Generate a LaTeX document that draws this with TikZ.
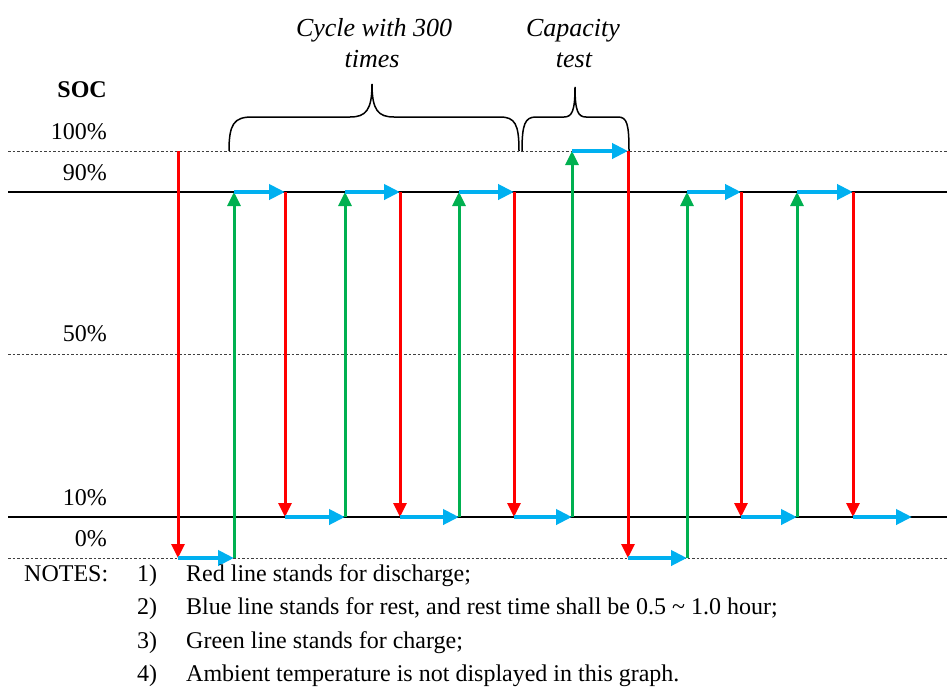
\documentclass[tikz,border=0pt]{standalone}
\usepackage{fontspec}
\setmainfont{Liberation Serif}
\usetikzlibrary{arrows.meta}
\definecolor{dischg}{RGB}{255,0,0}
\definecolor{chg}{RGB}{0,176,80}
\definecolor{rest}{RGB}{0,176,240}

\begin{document}
\begin{tikzpicture}[x=1pt, y=-1pt,
    every node/.style={font=\fontsize{24}{28}\selectfont, inner sep=0pt},
    lvl/.style={anchor=base east},
    note/.style={anchor=base west},
    ttl/.style={anchor=base, font=\fontsize{26}{30}\selectfont\itshape},
    gridline/.style={draw=black!75, line width=0.8pt, dash pattern=on 2.5pt off 2pt},
    refline/.style={draw=black, line width=2pt},
    seg1/.style={draw=dischg, line width=3pt, -{Triangle[length=14pt,width=13pt]}},
    seg3/.style={draw=chg, line width=3pt, -{Triangle[length=14pt,width=13pt]}},
    seg0/.style={draw=rest, line width=4pt, -{Triangle[length=16pt,width=15pt]}},
    seg2/.style={seg0},
    brc/.style={draw=black, line width=1.5pt}]
  \useasboundingbox (0,0) rectangle (947,686);

  % SOC levels
  \foreach \y in {151,354,558} \draw[gridline] (8,\y) -- (947,\y);
  \foreach \y in {192,517} \draw[refline] (8,\y) -- (947,\y);

  \node[lvl, font=\fontsize{24}{28}\selectfont\bfseries] (soc) at (107,97) {SOC};
  \node[lvl] (l100) at (107,139) {100\%};
  \node[lvl] (l90) at (107,180) {90\%};
  \node[lvl] (l50) at (107,341) {50\%};
  \node[lvl] (l10) at (107,505) {10\%};
  \node[lvl] (l0) at (107,546) {0\%};

  % corner points of the SOC profile
  \foreach \x/\y [count=\i] in {178/151, 178/558, 234/558, 234/192, 285/192,
      285/517, 345/517, 345/192, 400/192, 400/517, 459/517, 459/192, 514/192,
      514/517, 572/517, 572/151, 628/151, 628/558, 687/558, 687/192, 741/192,
      741/517, 797/517, 797/192, 853/192, 853/517, 912/517}
    \coordinate (p\i) at (\x,\y);

  % discharge / rest / charge steps
  \foreach \i in {1,...,26} {
    \pgfmathtruncatemacro{\j}{\i+1}
    \pgfmathtruncatemacro{\m}{mod(\i,4)}
    \draw[seg\m] (p\i) -- (p\j);
  }

  % braces
  \draw[brc] (229,151) .. controls (229,124) and (234,117) .. (252,117) -- (350,117)
    .. controls (366,117) and (372,110) .. (372,84)
    .. controls (372,110) and (378,117) .. (394,117) -- (500,117)
    .. controls (515,117) and (519,124) .. (519,151);
  \draw[brc] (522,151) .. controls (522,124) and (525,117) .. (536,117) -- (564,117)
    .. controls (572,117) and (575,111) .. (575,87)
    .. controls (575,111) and (578,117) .. (586,117) -- (618,117)
    .. controls (627,117) and (629,124) .. (629,151);

  \node[ttl] (cyc1) at (374,36) {Cycle with 300};
  \node[ttl] (cyc2) at (372,67) {times};
  \node[ttl] (cap1) at (573,36) {Capacity};
  \node[ttl] (cap2) at (574,67) {test};

  % notes
  \node[note] (notes) at (24,581) {NOTES:};
  \foreach \n/\y/\t in {1/581/{Red line stands for discharge;},
      2/614/{Blue line stands for rest, and rest time shall be 0.5 \textasciitilde\ 1.0 hour;},
      3/648/{Green line stands for charge;},
      4/681/{Ambient temperature is not displayed in this graph.}} {
    \node[note] (num\n) at (137,\y) {\n)};
    \node[note] (txt\n) at (186,\y) {\t};
  }
\end{tikzpicture}
\end{document}
